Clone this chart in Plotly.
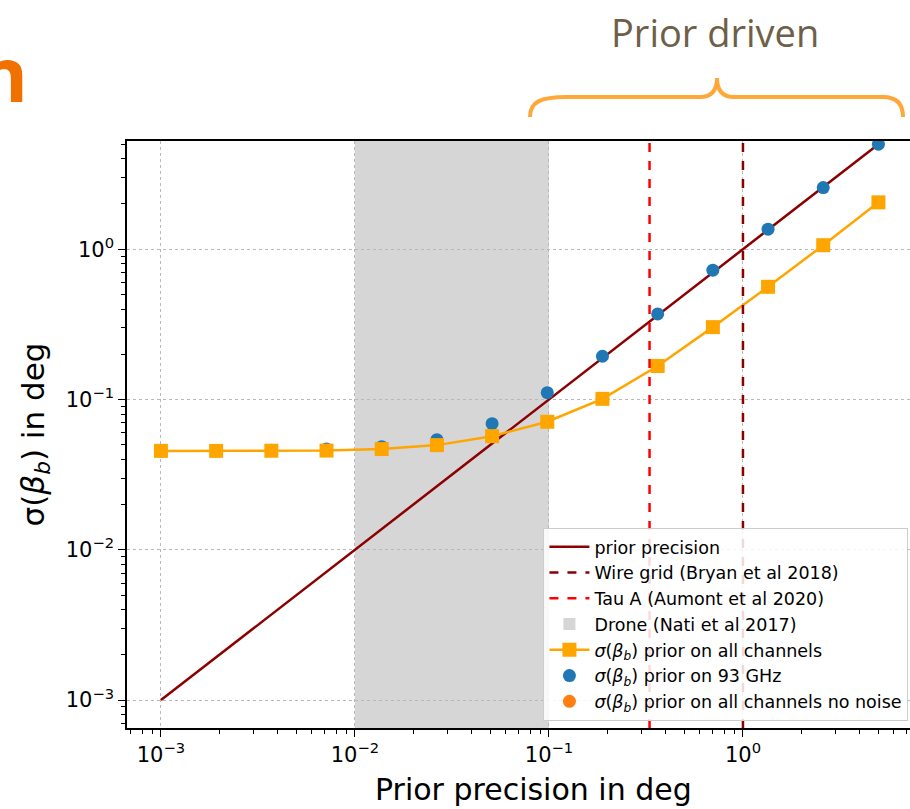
import plotly.graph_objects as go

# ---------------- data ----------------
prior_precision = [0.001, 0.001925, 0.003707, 0.007136, 0.01374, 0.02645, 0.05092,
                   0.09803, 0.1887, 0.3634, 0.6995, 1.347, 2.593, 4.992]
sigma_all_channels = [0.0455, 0.0455, 0.0456, 0.0457, 0.0468, 0.0497, 0.057,
                      0.0711, 0.101, 0.167, 0.303, 0.562, 1.063, 2.05]
sigma_93ghz = [0.0458, 0.0458, 0.046, 0.0468, 0.0485, 0.054, 0.069,
               0.111, 0.194, 0.371, 0.725, 1.36, 2.57, 5.0]
sigma_no_noise = [0.0455, 0.0455, 0.0456, 0.0457, 0.0468, 0.0497, 0.057,
                  0.0711, 0.101, 0.167, 0.303, 0.562, 1.063, 2.05]
prior_line_x = [0.001, 4.992]
prior_line_y = [0.001, 4.992]
wire_grid_x = 1.0
tau_a_x = 0.33
drone_range = [0.01, 0.1]
x_tickvals = [0.001, 0.01, 0.1, 1]
x_ticktext = ["10<sup>−3</sup>", "10<sup>−2</sup>", "10<sup>−1</sup>", "10<sup>0</sup>"]
y_tickvals = [0.001, 0.01, 0.1, 1]
y_ticktext = ["10<sup>−3</sup>", "10<sup>−2</sup>", "10<sup>−1</sup>", "10<sup>0</sup>"]
minor_tickvals = [m * 10.0 ** e for e in (-4, -3, -2, -1, 0) for m in range(2, 10)]

W, H = 910, 809
ML, MR, MT, MB = 127, 0, 141, 81
PW, PH = W - ML - MR, H - MT - MB


def px(x):
    return (x - ML) / PW


def py(y):
    return (H - MB - y) / PH


FONT = "DejaVu Sans"
sig = "<i>σ</i>(<i>β</i><sub><i>b</i></sub>)"

fig = go.Figure()

fig.add_trace(go.Scatter(
    x=prior_line_x, y=prior_line_y, mode="lines", name="prior precision",
    line=dict(color="#8B0000", width=2.5), legendrank=1))

fig.add_trace(go.Scatter(
    x=prior_precision, y=sigma_no_noise, mode="markers",
    name=sig + " prior on all channels no noise",
    marker=dict(color="#ff7f0e", size=13, symbol="circle"), legendrank=7))

fig.add_trace(go.Scatter(
    x=prior_precision, y=sigma_93ghz, mode="markers",
    name=sig + " prior on 93 GHz",
    marker=dict(color="#1f77b4", size=13, symbol="circle"), legendrank=6))

fig.add_trace(go.Scatter(
    x=prior_precision, y=sigma_all_channels, mode="lines+markers",
    name=sig + " prior on all channels",
    line=dict(color="#FFA500", width=2.5),
    marker=dict(color="#FFA500", size=14, symbol="square"), legendrank=5))

# vertical reference lines and drone band
fig.add_shape(type="line", xref="x", yref="paper", x0=wire_grid_x, x1=wire_grid_x,
              y0=0, y1=1, line=dict(color="#8B0000", width=2.5, dash="dash"),
              showlegend=True, name="Wire grid (Bryan et al 2018)", legendrank=2)
fig.add_shape(type="line", xref="x", yref="paper", x0=tau_a_x, x1=tau_a_x,
              y0=0, y1=1, line=dict(color="#FF0000", width=2.5, dash="dash"),
              showlegend=True, name="Tau A (Aumont et al 2020)", legendrank=3)
fig.add_shape(type="rect", xref="x", yref="paper", x0=drone_range[0], x1=drone_range[1],
              y0=0, y1=1, fillcolor="#d6d6d6", line=dict(width=0), layer="below",
              showlegend=True, name="Drone (Nati et al 2017)", legendrank=4)

# brace decoration above the plot
pts = [(530, 117), (530, 102), (540, 97), (567, 97), (700, 97), (712, 97), (717, 90), (717, 78),
       (717, 90), (722, 97), (734, 97), (883, 97), (895, 97), (903, 102), (903, 117)]
P = [(px(a), py(b)) for a, b in pts]
path = (f"M {P[0][0]},{P[0][1]} C {P[1][0]},{P[1][1]} {P[2][0]},{P[2][1]} {P[3][0]},{P[3][1]} "
        f"L {P[4][0]},{P[4][1]} C {P[5][0]},{P[5][1]} {P[6][0]},{P[6][1]} {P[7][0]},{P[7][1]} "
        f"C {P[8][0]},{P[8][1]} {P[9][0]},{P[9][1]} {P[10][0]},{P[10][1]} "
        f"L {P[11][0]},{P[11][1]} C {P[12][0]},{P[12][1]} {P[13][0]},{P[13][1]} {P[14][0]},{P[14][1]}")
fig.add_shape(type="path", xref="paper", yref="paper", path=path,
              line=dict(color="#FFA83A", width=4))

fig.add_annotation(text="Prior driven", xref="paper", yref="paper",
                   x=px(715), y=py(32), xanchor="center", yanchor="middle", showarrow=False,
                   font=dict(family="Open Sans", size=38, color="#6E6048"))
fig.add_annotation(text="<b>n</b>", xref="paper", yref="paper",
                   x=px(30), y=py(72), xanchor="right", yanchor="middle", showarrow=False,
                   font=dict(family="Open Sans", size=76, color="#F07000"))
fig.add_annotation(text="Prior precision in deg", xref="paper", yref="paper",
                   x=px(533), y=py(809), xanchor="center", yanchor="bottom", showarrow=False,
                   font=dict(family=FONT, size=30, color="black"))

axis_common = dict(
    type="log", showline=True, linecolor="black", linewidth=1.5,
    ticks="outside", ticklen=7, tickwidth=1.2, tickcolor="black",
    showgrid=True, gridcolor="#b8b8b8", griddash="dot", gridwidth=1,
    zeroline=False, automargin=False,
    minor=dict(ticks="outside", ticklen=4, tickwidth=1, tickcolor="black",
               showgrid=False, tickvals=minor_tickvals),
    tickfont=dict(family=FONT, size=21, color="black"),
)

fig.update_xaxes(**axis_common, range=[-3.175, 0.861], mirror=True,
                 tickvals=x_tickvals, ticktext=x_ticktext)
fig.update_yaxes(**axis_common, range=[-3.186, 0.72],
                 tickvals=y_tickvals, ticktext=y_ticktext,
                 title=dict(text="σ(<i>β</i><sub><i>b</i></sub>) in deg",
                            font=dict(family=FONT, size=31, color="black"), standoff=12))

fig.update_layout(
    width=W, height=H,
    margin=dict(l=ML, r=MR, t=MT, b=MB),
    paper_bgcolor="white", plot_bgcolor="white",
    legend=dict(x=0.998, y=0.012, xanchor="right", yanchor="bottom",
                bgcolor="rgba(255,255,255,0.85)", bordercolor="#cccccc", borderwidth=1,
                font=dict(family=FONT, size=17.5, color="black"),
                tracegroupgap=0, itemwidth=40),
)

fig.write_html("out.html")
